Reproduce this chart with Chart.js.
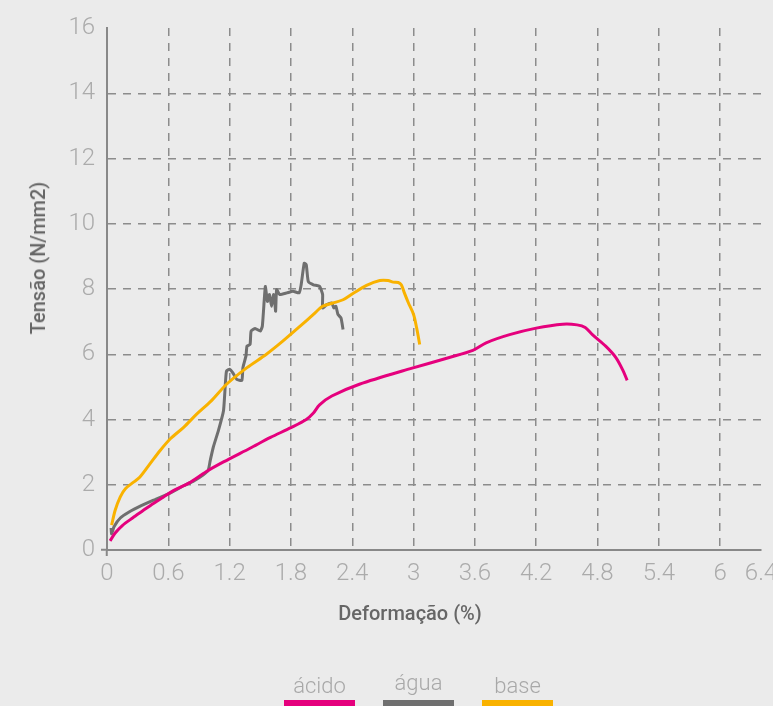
<!DOCTYPE html>
<html lang="pt">
<head>
<meta charset="UTF-8">
<title>Tensão x Deformação</title>
<style>
    html, body { margin: 0; padding: 0; background: #ebebeb; }
    .wrap { position: relative; width: 773px; height: 706px; overflow: hidden; }
    #grafico { position: absolute; left: 0; top: 0; }
    .titulo-y {
        position: absolute; left: 38px; top: 258px;
        transform: translate(-50%, -50%) rotate(-90deg);
        font: 500 20px Roboto, sans-serif; color: #666; white-space: nowrap;
    }
    .titulo-x {
        position: absolute; left: 410px; top: 613px;
        transform: translate(-50%, -50%);
        font: 500 20px Roboto, sans-serif; color: #666; white-space: nowrap;
    }
    .legenda { position: absolute; left: 284px; top: 673px; display: flex; gap: 28px; }
    .item { width: 71px; text-align: center; }
    .item span { display: block; font: 300 22px Roboto, sans-serif; color: #a8a8a8; line-height: 26px; }
    .item:nth-child(2) span { position: relative; top: -3px; }
    .item i { display: block; height: 6px; margin-top: 1px; }
</style>
</head>
<body>
<div class="wrap">
    <canvas id="grafico" width="773" height="706"></canvas>
    <div class="titulo-y">Tensão (N/mm2)</div>
    <div class="titulo-x">Deformação (%)</div>
    <div class="legenda" id="legenda"></div>
</div>
<script src="https://cdn.jsdelivr.net/npm/chart.js@4.4.1/dist/chart.umd.min.js"></script>
<script>
    // eixos
    const xTicks = [0, 0.6, 1.2, 1.8, 2.4, 3, 3.6, 4.2, 4.8, 5.4, 6, 6.4];
    const yTicks = [0, 2, 4, 6, 8, 10, 12, 14, 16];

    const series = ['ácido', 'água', 'base'];
    const cores = ['#e5007d', '#6f6f6f', '#f9b200'];

    // ácido
    const acidoX = [0.03, 0.08, 0.15, 0.25, 0.35, 0.45, 0.55, 0.65, 0.8, 0.97, 1.14, 1.4, 1.6, 1.8, 1.95, 2.02, 2.08, 2.2, 2.47, 2.96, 3.35, 3.58, 3.71, 3.94, 4.2, 4.46, 4.6, 4.68, 4.75, 4.88, 4.98, 5.05, 5.09];
    const acidoY = [0.28, 0.52, 0.75, 0.98, 1.2, 1.42, 1.62, 1.82, 2.05, 2.4, 2.7, 3.12, 3.45, 3.75, 4.0, 4.2, 4.45, 4.72, 5.08, 5.55, 5.9, 6.12, 6.35, 6.6, 6.8, 6.92, 6.9, 6.82, 6.6, 6.25, 5.9, 5.5, 5.2];

    // água
    const aguaX = [0.04, 0.045, 0.07, 0.13, 0.22, 0.33, 0.45, 0.6, 0.75, 0.85, 0.94, 0.99, 1.01, 1.04, 1.09, 1.14, 1.16, 1.17, 1.2, 1.23, 1.27, 1.32, 1.33, 1.36, 1.37, 1.4, 1.41, 1.45, 1.5, 1.52, 1.54, 1.55, 1.57, 1.59, 1.61, 1.63, 1.64, 1.65, 1.66, 1.69, 1.76, 1.82, 1.88, 1.9, 1.93, 1.95, 1.97, 2.02, 2.08, 2.11, 2.11, 2.15, 2.2, 2.22, 2.24, 2.26, 2.29, 2.31];
    const aguaY = [0.68, 0.5, 0.72, 0.98, 1.17, 1.35, 1.52, 1.72, 1.97, 2.12, 2.3, 2.44, 2.74, 3.15, 3.66, 4.27, 5.18, 5.49, 5.54, 5.44, 5.23, 5.2, 5.59, 5.95, 6.25, 6.3, 6.71, 6.79, 6.71, 6.86, 7.72, 8.08, 7.62, 7.83, 7.47, 7.83, 7.67, 7.32, 7.98, 7.83, 7.88, 7.93, 7.88, 8.13, 8.79, 8.74, 8.23, 8.13, 8.08, 7.83, 7.42, 7.52, 7.57, 7.42, 7.47, 7.22, 7.11, 6.76];

    // base
    const baseX = [0.045, 0.08, 0.13, 0.18, 0.26, 0.32, 0.42, 0.52, 0.62, 0.75, 0.88, 1.02, 1.17, 1.37, 1.56, 1.72, 1.89, 2.02, 2.11, 2.21, 2.31, 2.41, 2.54, 2.67, 2.75, 2.8, 2.85, 2.88, 2.91, 2.95, 3.0, 3.03, 3.06];
    const baseY = [0.76, 1.22, 1.63, 1.88, 2.08, 2.23, 2.64, 3.05, 3.41, 3.76, 4.17, 4.57, 5.08, 5.59, 6.0, 6.4, 6.86, 7.22, 7.47, 7.57, 7.67, 7.87, 8.11, 8.26, 8.26, 8.21, 8.2, 8.13, 7.88, 7.57, 7.22, 6.81, 6.3];

    function pontos(xs, ys) {
        return xs.map((x, i) => ({ x: x, y: ys[i] }));
    }

    const invisivel = 'rgba(0,0,0,0)';
    const fonteTick = { family: 'Roboto', size: 24, weight: 300 };

    new Chart(document.getElementById('grafico'), {
        type: 'scatter',
        data: {
            datasets: [
                { label: series[0], data: pontos(acidoX, acidoY), borderColor: cores[0], tension: 0.3, order: 2 },
                { label: series[1], data: pontos(aguaX, aguaY), borderColor: cores[1], tension: 0.15, order: 3 },
                { label: series[2], data: pontos(baseX, baseY), borderColor: cores[2], tension: 0.3, order: 1 }
            ]
        },
        options: {
            responsive: false,
            animation: false,
            showLine: true,
            layout: { padding: { left: 0, top: 28, right: 12, bottom: 0 } },
            elements: {
                point: { radius: 0, hoverRadius: 0 },
                line: { borderWidth: 3, fill: false }
            },
            plugins: { legend: { display: false }, tooltip: { enabled: false } },
            scales: {
                x: {
                    type: 'linear', min: 0, max: 6.4,
                    afterBuildTicks: s => { s.ticks = xTicks.map(v => ({ value: v })); },
                    afterFit: s => { s.height = 156; s.paddingLeft = 0; s.paddingRight = 0; },
                    border: { color: '#888', width: 2, dash: [8, 7] },
                    grid: {
                        color: c => (c.tick && (c.tick.value === 0 || c.tick.value === 6.4)) ? invisivel : '#8c8c8c',
                        lineWidth: 1.5,
                        tickLength: 6,
                        tickWidth: 2,
                        tickColor: c => (c.tick && c.tick.value === 0) ? '#888' : invisivel
                    },
                    ticks: {
                        autoSkip: false, maxRotation: 0, padding: 4,
                        color: '#ababab', font: fonteTick,
                        callback: v => String(v)
                    }
                },
                y: {
                    min: 0, max: 16,
                    afterBuildTicks: s => { s.ticks = yTicks.map(v => ({ value: v })); },
                    afterFit: s => { s.width = 107; s.paddingTop = 0; s.paddingBottom = 0; },
                    border: { color: '#888', width: 2, dash: [8, 7] },
                    grid: {
                        color: c => (c.tick && (c.tick.value === 0 || c.tick.value === 16)) ? invisivel : '#8c8c8c',
                        lineWidth: 1.5,
                        tickLength: 6,
                        tickWidth: 2,
                        tickColor: c => (c.tick && c.tick.value === 0) ? '#888' : invisivel
                    },
                    ticks: {
                        autoSkip: false, padding: 6,
                        color: '#ababab', font: fonteTick,
                        callback: v => String(v)
                    }
                }
            }
        }
    });

    // legenda embaixo
    const legenda = document.getElementById('legenda');
    series.forEach((nome, i) => {
        const item = document.createElement('div');
        item.className = 'item';
        item.innerHTML = '<span>' + nome + '</span><i style="background:' + cores[i] + '"></i>';
        legenda.appendChild(item);
    });
</script>
</body>
</html>
